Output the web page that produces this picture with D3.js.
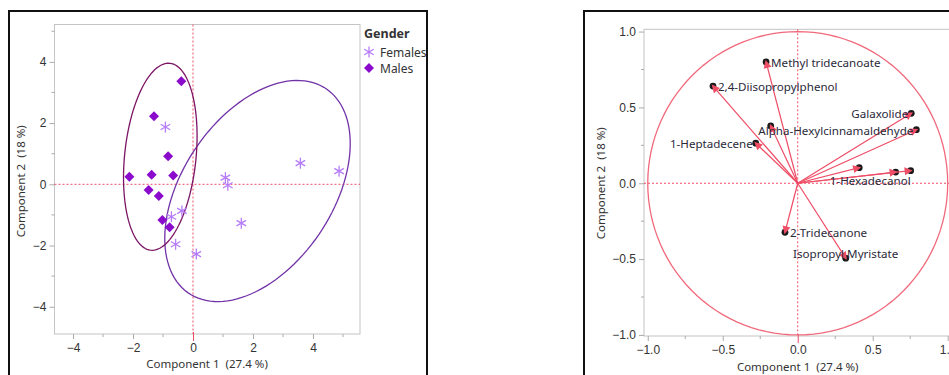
<!DOCTYPE html>
<html>
<head>
<meta charset="utf-8">
<script src="https://cdn.jsdelivr.net/npm/d3@7"></script>
<style>
  body { margin:0; background:#fff; }
  svg { display:block; font-family:"Noto Sans", "Open Sans", sans-serif; }
  text { white-space:pre; }
  .tick text { fill:#333; font-size:12px; }
  .title { fill:#333; font-size:11.5px; }
</style>
</head>
<body>
<svg id="chart" width="949" height="375"></svg>
<script>
// score plot data
var femalesX = [-0.92, 1.08, 1.16, 3.58, 4.87, 1.61, -0.72, -0.37, -0.58, 0.11];
var femalesY = [1.87, 0.22, -0.03, 0.69, 0.43, -1.27, -1.06, -0.87, -1.96, -2.28];
var malesX = [-0.39, -1.30, -0.83, -2.12, -1.38, -0.66, -1.48, -1.14, -1.02, -0.78];
var malesY = [3.37, 2.22, 0.92, 0.25, 0.31, 0.29, -0.19, -0.38, -1.17, -1.40];
var groups = ['Females', 'Males'];
// density ellipses: center, semi axes, angle (deg)
var ellipseCx = [2.15, -1.09];
var ellipseCy = [-0.22, 0.90];
var ellipseA = [4.05, 3.07];
var ellipseB = [2.49, 1.19];
var ellipseAngle = [55, 84];
var scoreTicks = [-4, -2, 0, 2, 4];

// loading plot data
var loadNames = ['Methyl tridecanoate', '2,4-Diisopropylphenol', 'Galaxolide', 'Alpha-Hexylcinnamaldehyde', '',
  '1-Heptadecene', '', '', '1-Hexadecanol', '2-Tridecanone', 'Isopropyl Myristate'];
var loadX = [-0.211, -0.565, 0.757, 0.791, -0.180, -0.280, 0.410, 0.653, 0.753, -0.085, 0.320];
var loadY = [0.800, 0.641, 0.461, 0.353, 0.378, 0.264, 0.103, 0.074, 0.083, -0.323, -0.494];
var labelSide = ['right', 'right', 'left', 'left', '', 'left', '', '', 'below', 'right', 'above'];
var loadTicks = [-1.0, -0.5, 0.0, 0.5, 1.0];

var xTitle = 'Component 1  (27.4 %)';
var yTitle = 'Component 2  (18 %)';

var svg = d3.select('#chart');
var red = '#ee4d66';

// frames
svg.append('path').attr('d', 'M9,380 V11 H427 V380').attr('fill', 'none').attr('stroke', '#111').attr('stroke-width', 2);
svg.append('path').attr('d', 'M584,380 V11 H960').attr('fill', 'none').attr('stroke', '#111').attr('stroke-width', 2);

function drawAxes(g, x, y, ticks, minor, fmt) {
    var r = x.range(), t = y.range();
    g.append('rect').attr('x', r[0]).attr('y', t[1]).attr('width', r[1] - r[0]).attr('height', t[0] - t[1])
        .attr('fill', 'none').attr('stroke', '#c4c4c4');
    var xa = g.append('g').attr('transform', 'translate(0,' + t[0] + ')')
        .call(d3.axisBottom(x).tickValues(ticks).tickSize(5).tickPadding(4).tickFormat(fmt));
    xa.append('g').selectAll('line').data(minor).join('line')
        .attr('x1', d => x(d)).attr('x2', d => x(d)).attr('y1', 0).attr('y2', 3).attr('stroke', '#aaa');
    var ya = g.append('g').attr('transform', 'translate(' + r[0] + ',0)')
        .call(d3.axisLeft(y).tickValues(ticks).tickSize(5).tickPadding(3).tickFormat(fmt));
    ya.append('g').selectAll('line').data(minor).join('line')
        .attr('y1', d => y(d)).attr('y2', d => y(d)).attr('x1', 0).attr('x2', -3).attr('stroke', '#aaa');
    [xa, ya].forEach(function(a) {
        a.select('.domain').remove();
        a.selectAll('.tick line').attr('stroke', '#aaa');
    });
    xa.selectAll('.tick line').filter(d => d === 0).attr('stroke', red).attr('y1', -2).attr('y2', 7);
    // reference lines at zero
    g.append('line').attr('x1', x(0)).attr('x2', x(0)).attr('y1', t[1]).attr('y2', t[0])
        .attr('stroke', red).attr('stroke-dasharray', '2,2');
    g.append('line').attr('x1', r[0]).attr('x2', r[1]).attr('y1', y(0)).attr('y2', y(0))
        .attr('stroke', red).attr('stroke-dasharray', '2,2');
}

function ellipsePath(x, y, cx, cy, a, b, ang) {
    var th = ang * Math.PI / 180, pts = [];
    for (var i = 0; i <= 120; i++) {
        var s = i / 120 * 2 * Math.PI;
        var ex = a * Math.cos(s), ey = b * Math.sin(s);
        pts.push([x(cx + ex * Math.cos(th) - ey * Math.sin(th)), y(cy + ex * Math.sin(th) + ey * Math.cos(th))]);
    }
    return d3.line()(pts) + 'Z';
}

// ---------- left: score plot ----------
var x1 = d3.scaleLinear().domain([-4.617, 5.567]).range([54.5, 360]);
var y1 = d3.scaleLinear().domain([-4.89, 5.22]).range([334, 24.5]);
var left = svg.append('g');
drawAxes(left, x1, y1, scoreTicks, [-3, -1, 1, 3, 5], d3.format('d'));

var ellColors = ['#7232a8', '#7c1565'];
groups.forEach(function(gname, i) {
    left.append('path').attr('d', ellipsePath(x1, y1, ellipseCx[i], ellipseCy[i], ellipseA[i], ellipseB[i], ellipseAngle[i]))
        .attr('fill', 'none').attr('stroke', ellColors[i]).attr('stroke-width', 1.3);
});

var femColor = '#b67cf9', maleColor = '#8a0bcc';
function star(sel, cx, cy, r) {
    var g = sel.append('g').attr('stroke', femColor).attr('stroke-width', 1.3);
    [90, 30, -30].forEach(function(a) {
        var dx = r * Math.cos(a * Math.PI / 180), dy = r * Math.sin(a * Math.PI / 180);
        g.append('line').attr('x1', cx - dx).attr('y1', cy - dy).attr('x2', cx + dx).attr('y2', cy + dy);
    });
}
function diamond(sel, cx, cy, r) {
    sel.append('path').attr('d', 'M' + cx + ',' + (cy - r) + 'L' + (cx + r) + ',' + cy + 'L' + cx + ',' + (cy + r) + 'L' + (cx - r) + ',' + cy + 'Z')
        .attr('fill', maleColor);
}
femalesX.forEach(function(v, i) { star(left, x1(v), y1(femalesY[i]), 5.5); });
malesX.forEach(function(v, i) { diamond(left, x1(v), y1(malesY[i]), 5); });

left.append('text').attr('class', 'title').attr('x', 207).attr('y', 368).attr('text-anchor', 'middle').text(xTitle);
left.append('text').attr('class', 'title').attr('transform', 'translate(25,' + y1(0.1) + ') rotate(-90)').attr('text-anchor', 'middle').text(yTitle);

// legend
var leg = left.append('g').attr('transform', 'translate(364,0)');
leg.append('text').attr('x', 0).attr('y', 38).attr('font-weight', 'bold').attr('font-size', 12.5).attr('fill', '#333').text('Gender');
star(leg, 5, 52, 5.5);
leg.append('text').attr('x', 16).attr('y', 56.5).attr('font-size', 12).attr('fill', '#333').text(groups[0]);
diamond(leg, 5, 68, 5);
leg.append('text').attr('x', 16).attr('y', 72.5).attr('font-size', 12).attr('fill', '#333').text(groups[1]);

// ---------- right: loading plot ----------
var x2 = d3.scaleLinear().domain([-1.025, 1.022]).range([644, 951]);
var y2 = d3.scaleLinear().domain([-1.007, 1.015]).range([336, 29.3]);
var right = svg.append('g');
drawAxes(right, x2, y2, loadTicks, [-0.75, -0.25, 0.25, 0.75], d3.format('.1f'));

right.append('path').attr('d', ellipsePath(x2, y2, 0, 0, 1, 1, 0))
    .attr('fill', 'none').attr('stroke', '#f06a7c').attr('stroke-width', 1.3);

loadX.forEach(function(v, i) {
    var px = x2(v), py = y2(loadY[i]), ox = x2(0), oy = y2(0);
    var ang = Math.atan2(py - oy, px - ox);
    right.append('line').attr('x1', ox).attr('y1', oy).attr('x2', px).attr('y2', py)
        .attr('stroke', red).attr('stroke-width', 1.2);
    right.append('circle').attr('cx', px).attr('cy', py).attr('r', 3.4).attr('fill', '#1a1a1a');
    var L = 8, W = 4;
    var tx = px + 2 * Math.cos(ang), ty = py + 2 * Math.sin(ang);
    var bx = tx - L * Math.cos(ang), by = ty - L * Math.sin(ang);
    right.append('path').attr('d', 'M' + tx + ',' + ty +
        'L' + (bx - W * Math.sin(ang)) + ',' + (by + W * Math.cos(ang)) +
        'L' + (bx + W * Math.sin(ang)) + ',' + (by - W * Math.cos(ang)) + 'Z').attr('fill', red);
});

loadNames.forEach(function(name, i) {
    if (!name) return;
    var px = x2(loadX[i]), py = y2(loadY[i]);
    var t = right.append('text').attr('font-size', 11.6).attr('fill', '#2a2a3a').text(name);
    var side = labelSide[i];
    if (side === 'right') t.attr('x', px + 5).attr('y', py + 5);
    else if (side === 'left') t.attr('x', px - 3).attr('y', py + 5).attr('text-anchor', 'end');
    else if (side === 'below') t.attr('x', px).attr('y', py + 14).attr('text-anchor', 'end');
    else t.attr('x', px).attr('y', py).attr('text-anchor', 'middle');
});

right.append('text').attr('class', 'title').attr('x', x2(0)).attr('y', 371).attr('text-anchor', 'middle').text(xTitle);
right.append('text').attr('class', 'title').attr('transform', 'translate(605,' + y2(0) + ') rotate(-90)').attr('text-anchor', 'middle').text(yTitle);
</script>
</body>
</html>
